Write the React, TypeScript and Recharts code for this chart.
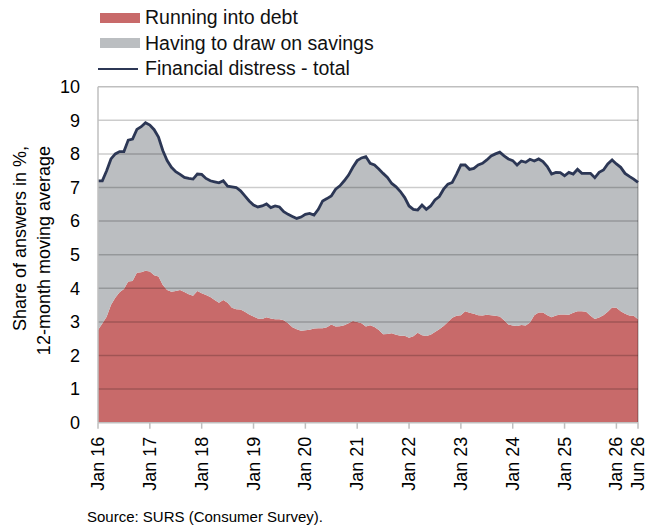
import React from 'react';
import { ComposedChart, Area, Line, XAxis, YAxis, ReferenceLine } from 'recharts';

const MONTHS = ['Jan', 'Feb', 'Mar', 'Apr', 'May', 'Jun', 'Jul', 'Aug', 'Sep', 'Oct', 'Nov', 'Dec'];
const START_YEAR = 16;

// monthly values, Jan 16 .. Jun 26
const TOTAL = [
    7.2, 7.2, 7.5, 7.85, 8.0, 8.07, 8.07, 8.41, 8.44, 8.73, 8.81, 8.93,
    8.86, 8.72, 8.5, 8.1, 7.8, 7.6, 7.47, 7.39, 7.3, 7.27, 7.25, 7.4,
    7.39, 7.27, 7.2, 7.17, 7.14, 7.2, 7.04, 7.02, 7.0, 6.9, 6.75, 6.6,
    6.48, 6.42, 6.45, 6.51, 6.4, 6.45, 6.42, 6.28, 6.2, 6.14, 6.08, 6.12,
    6.2, 6.23, 6.18, 6.35, 6.6, 6.67, 6.75, 6.95, 7.05, 7.2, 7.37, 7.6,
    7.8, 7.88, 7.92, 7.72, 7.67, 7.55, 7.42, 7.3, 7.12, 7.02, 6.88, 6.7,
    6.45, 6.35, 6.33, 6.48, 6.35, 6.45, 6.63, 6.73, 6.95, 7.1, 7.15, 7.4,
    7.67, 7.67, 7.54, 7.57, 7.67, 7.72, 7.82, 7.94, 8.0, 8.05, 7.94, 7.85,
    7.8, 7.67, 7.79, 7.75, 7.84, 7.79, 7.85, 7.77, 7.62, 7.4, 7.45, 7.44,
    7.35, 7.45, 7.4, 7.54, 7.42, 7.42, 7.42, 7.29, 7.45, 7.52, 7.7, 7.82,
    7.7, 7.6, 7.42, 7.33, 7.25, 7.15,
];

const DEBT = [
    2.76, 2.95, 3.15, 3.5, 3.72, 3.88, 3.98, 4.2, 4.22, 4.46, 4.48, 4.52,
    4.5, 4.39, 4.35, 4.1, 3.95, 3.9, 3.92, 3.95, 3.89, 3.82, 3.78, 3.92,
    3.85, 3.8, 3.74, 3.65, 3.57, 3.65, 3.57, 3.42, 3.38, 3.37, 3.3, 3.22,
    3.16, 3.1, 3.09, 3.14, 3.1, 3.08, 3.08, 3.05, 2.96, 2.84, 2.78, 2.74,
    2.75, 2.77, 2.8, 2.81, 2.81, 2.84, 2.92, 2.86, 2.87, 2.9, 2.96, 3.03,
    3.0, 2.96, 2.86, 2.9, 2.85, 2.76, 2.63, 2.64, 2.66, 2.62, 2.59, 2.59,
    2.53, 2.57, 2.68, 2.6, 2.58, 2.62, 2.7, 2.78, 2.88, 3.0, 3.12, 3.18,
    3.2, 3.32, 3.27, 3.24, 3.2, 3.19, 3.21, 3.2, 3.18, 3.16, 3.05, 2.92,
    2.89, 2.88, 2.91, 2.89, 2.98, 3.2, 3.28, 3.28, 3.2, 3.14, 3.19, 3.22,
    3.22, 3.21, 3.27, 3.32, 3.32, 3.3, 3.18, 3.09, 3.13, 3.2, 3.3, 3.43,
    3.42, 3.32, 3.24, 3.19, 3.18, 3.08,
];

const Y_TICKS = [0, 1, 2, 3, 4, 5, 6, 7, 8, 9, 10];
const GRID_Y = [1, 2, 3, 4, 5, 6, 7, 8, 9, 10];

const LABELS = TOTAL.map((_, i) => `${MONTHS[i % 12]} ${START_YEAR + Math.floor(i / 12)}`);
const X_TICKS = [...LABELS.filter((l) => l.startsWith('Jan')), LABELS[LABELS.length - 1]];

const data = LABELS.map((label, i) => ({
    label,
    debt: DEBT[i],
    savings: +(TOTAL[i] - DEBT[i]).toFixed(2),
    total: TOTAL[i],
}));

const RED = '#C86A6A';
const GREY = '#BBBEC1';
const NAVY = '#2C3755';
const FONT = '"Liberation Sans", Arial, sans-serif';

const XTick = ({ x, y, payload }: any) => (
    <g transform={`translate(${x},${y + 6})`}>
        <text
            x={0}
            y={0}
            transform="rotate(-90)"
            textAnchor="end"
            dominantBaseline="central"
            fill="#000"
            fontSize={18}
            fontFamily={FONT}
        >
            {payload.value}
        </text>
    </g>
);

const YTitle = () => (
    <g fontFamily={FONT} fontSize={18} fill="#000">
        <text transform="translate(20,146) rotate(-90)" textAnchor="end" dominantBaseline="central">
            Share of answers in %,
        </text>
        <text transform="translate(44,146) rotate(-90)" textAnchor="end" dominantBaseline="central">
            12-month moving average
        </text>
    </g>
);

const legendItems = [
    { name: 'Running into debt', kind: 'box', color: RED },
    { name: 'Having to draw on savings', kind: 'box', color: GREY },
    { name: 'Financial distress - total', kind: 'line', color: NAVY },
];

const App: React.FC = () => {
    return (
        <div style={{ position: 'absolute', left: 0, top: 0, width: 651, height: 532, fontFamily: FONT }}>
            <div style={{ position: 'absolute', left: 98, top: 5 }}>
                {legendItems.map((item) => (
                    <div key={item.name} style={{ display: 'flex', alignItems: 'center', height: 25.5 }}>
                        <div
                            style={{
                                width: 40,
                                height: item.kind === 'box' ? 10 : 2.5,
                                marginLeft: item.kind === 'box' ? 2 : 0,
                                marginRight: item.kind === 'box' ? 5 : 7,
                                background: item.color,
                            }}
                        />
                        <span style={{ fontSize: 19.5, color: '#111', whiteSpace: 'nowrap' }}>{item.name}</span>
                    </div>
                ))}
            </div>
            <ComposedChart
                width={651}
                height={532}
                data={data}
                margin={{ top: 86.7, right: 13, bottom: 39.3, left: 0 }}
            >
                <XAxis
                    dataKey="label"
                    ticks={X_TICKS}
                    interval={0}
                    height={70}
                    tick={<XTick />}
                    tickSize={6}
                    tickLine={{ stroke: '#BFBFBF', strokeWidth: 1.5 }}
                    axisLine={{ stroke: '#BFBFBF', strokeWidth: 1.5 }}
                />
                <YAxis
                    domain={[0, 10]}
                    ticks={Y_TICKS}
                    interval={0}
                    width={98}
                    tickSize={0}
                    tickMargin={18}
                    tickLine={false}
                    axisLine={{ stroke: '#BFBFBF', strokeWidth: 1.5 }}
                    tick={{ fill: '#000', fontSize: 18, fontFamily: FONT }}
                    label={<YTitle />}
                />
                <Area
                    type="linear"
                    dataKey="debt"
                    stackId="s"
                    fill={RED}
                    fillOpacity={1}
                    stroke="none"
                    isAnimationActive={false}
                />
                <Area
                    type="linear"
                    dataKey="savings"
                    stackId="s"
                    fill={GREY}
                    fillOpacity={1}
                    stroke="none"
                    isAnimationActive={false}
                />
                {GRID_Y.map((v) => (
                    <ReferenceLine
                        key={v}
                        y={v}
                        stroke={v === 10 ? '#BFBFBF' : 'rgba(0,0,0,0.2)'}
                        strokeWidth={1.5}
                    />
                ))}
                <ReferenceLine x={LABELS[LABELS.length - 1]} stroke="rgba(0,0,0,0.25)" strokeWidth={1.5} />
                <Line
                    type="linear"
                    dataKey="total"
                    stroke={NAVY}
                    strokeWidth={2.8}
                    dot={false}
                    isAnimationActive={false}
                />
            </ComposedChart>
            <div style={{ position: 'absolute', left: 87, top: 508, fontSize: 15, color: '#000' }}>
                Source: SURS (Consumer Survey).
            </div>
        </div>
    );
};

export default App;
